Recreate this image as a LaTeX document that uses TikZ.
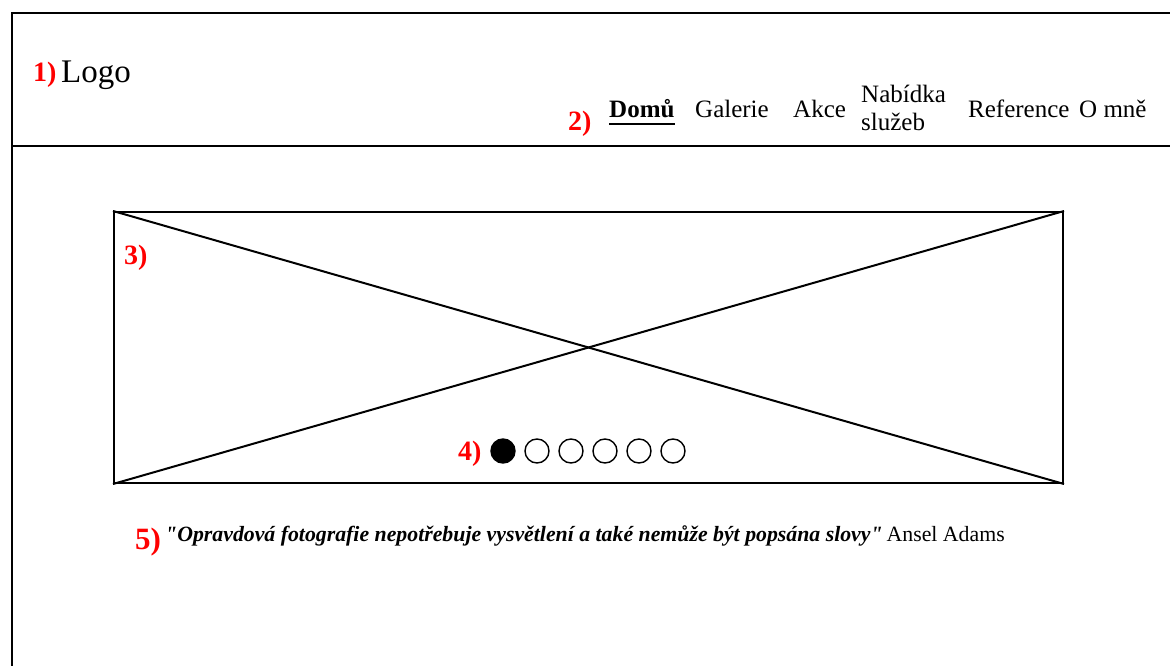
\documentclass[tikz,border=0pt]{standalone}
\usepackage{fontspec}
\setmainfont{Liberation Serif}
\begin{document}
\begin{tikzpicture}[x=1pt,y=-1pt,
  frame/.style={line width=2.5pt},
  num/.style={anchor=base west,inner sep=0pt,text=red,font=\fontsize{28}{30}\selectfont\bfseries},
  navitem/.style={anchor=base west,inner sep=0pt,font=\fontsize{25}{28}\selectfont},
  dot/.style={circle,draw,line width=1.4pt,minimum size=24pt,inner sep=0pt}]
\useasboundingbox (0,0) rectangle (1170,666);
% frame
\draw[frame] (12,666) -- (12,13) -- (1170,13);
\draw[frame] (12,146) -- (1170,146);
% header
\node[num] (n1) at (33,82) {1)};
\node[anchor=base west,inner sep=0pt,font=\fontsize{33}{36}\selectfont] (logo) at (61,83) {Logo};
\node[num] (n2) at (568,131) {2)};
\node[navitem,font=\fontsize{25}{28}\selectfont\bfseries] (domu) at (609,118) {Domů};
\draw[line width=2.2pt] ([yshift=-6pt]domu.base west) -- ([yshift=-6pt]domu.base east);
\node[navitem] (gal) at (695,118) {Galerie};
\node[navitem] (akce) at (793,118) {Akce};
\node[navitem] (nab1) at (861,103) {Nabídka};
\node[navitem] (nab2) at (861,131) {služeb};
\node[navitem] (ref) at (968,118) {Reference};
\node[navitem] (omne) at (1079,118) {O mně};
% banner
\node[draw,line width=2pt,minimum width=949pt,minimum height=271pt,inner sep=0pt] (banner) at (588.5,347.5) {};
\draw[line width=2pt] (banner.north west) -- (banner.south east);
\draw[line width=2pt] (banner.south west) -- (banner.north east);
\node[num] (n3) at (124,264) {3)};
\node[num] (n4) at (458,460) {4)};
\node[dot,fill=black] (d1) at (503,451) {};
\node[dot] (d2) at (537,451) {};
\node[dot] (d3) at (571,451) {};
\node[dot] (d4) at (605,451) {};
\node[dot] (d5) at (639,451) {};
\node[dot] (d6) at (673,451) {};
% quote
\node[num,font=\fontsize{31}{32}\selectfont\bfseries] (n5) at (135,549) {5)};
\node[anchor=base west,inner sep=0pt,font=\fontsize{21.8}{24}\selectfont] (quote) at (165,541) {\textbf{\textit{\textquotedbl Opravdová fotografie nepotřebuje vysvětlení a také nemůže být popsána slovy\textquotedbl}}\hspace{4pt}Ansel Adams};
\end{tikzpicture}
\end{document}
